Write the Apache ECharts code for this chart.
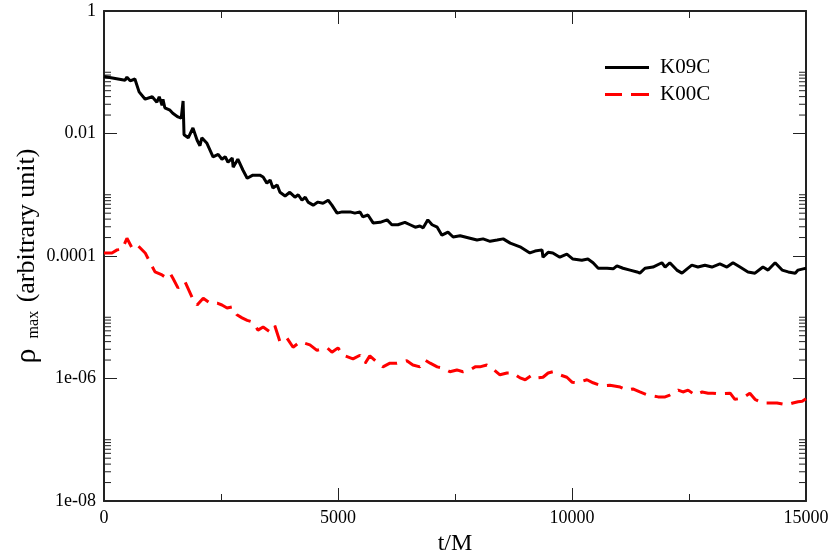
<!DOCTYPE html>
<html>
<head>
<meta charset="utf-8">
<script src="https://cdn.jsdelivr.net/npm/echarts@6/dist/echarts.min.js"></script>
<style>
  html, body { margin: 0; padding: 0; background: #fff; }
  #main { width: 834px; height: 557px; }
</style>
</head>
<body>
<div id="main"></div>
<script>
// series names
var seriesNames = ['K09C', 'K00C'];

// time (t/M) and log10 of rho_max
var k09cT = [0, 20, 450, 490, 560, 660, 750, 880, 1030, 1130, 1180, 1240, 1260, 1300, 1410, 1470, 1580, 1650, 1690, 1710,
  1800, 1900, 1990, 2050, 2090, 2200, 2330, 2440, 2520, 2590, 2650, 2740, 2760, 2860, 2970, 3060, 3180, 3330, 3400, 3480,
  3550, 3610, 3700, 3760, 3870, 3970, 4080, 4150, 4230, 4300, 4360, 4470, 4570, 4680, 4790, 4870, 4980, 5090, 5260, 5360,
  5470, 5530, 5640, 5750, 5900, 6050, 6150, 6280, 6430, 6540, 6650, 6750, 6820, 6920, 7010, 7120, 7220, 7350, 7460, 7610,
  7820, 7970, 8100, 8250, 8400, 8530, 8680, 8890, 9100, 9210, 9250, 9360, 9380, 9490, 9590, 9740, 9890, 10020, 10210, 10340,
  10450, 10560, 10750, 10880, 10960, 11090, 11240, 11390, 11450, 11560, 11730, 11920, 11990, 12090, 12240, 12350, 12460, 12560,
  12690, 12840, 12990, 13160, 13310, 13440, 13590, 13760, 13910, 14080, 14190, 14340, 14490, 14620, 14770, 14830, 14940, 15000];
var k09cLog = [-1.07, -1.10, -1.13, -1.08, -1.14, -1.11, -1.32, -1.44, -1.40, -1.49, -1.40, -1.54, -1.44, -1.58, -1.62, -1.67, -1.73, -1.75, -1.47, -2.02,
  -2.07, -1.91, -2.11, -2.20, -2.07, -2.16, -2.38, -2.34, -2.42, -2.38, -2.47, -2.40, -2.55, -2.42, -2.60, -2.73, -2.68, -2.68, -2.71, -2.81,
  -2.76, -2.89, -2.84, -2.96, -3.02, -2.96, -3.04, -3.00, -3.09, -3.04, -3.12, -3.17, -3.12, -3.14, -3.09, -3.17, -3.30, -3.28, -3.28, -3.30,
  -3.28, -3.36, -3.33, -3.46, -3.45, -3.41, -3.49, -3.49, -3.45, -3.49, -3.53, -3.51, -3.54, -3.41, -3.49, -3.53, -3.66, -3.61, -3.69, -3.67,
  -3.71, -3.74, -3.72, -3.76, -3.74, -3.72, -3.79, -3.85, -3.95, -3.92, -3.95, -3.90, -4.02, -3.94, -3.95, -4.02, -3.97, -4.05, -4.07, -4.05,
  -4.11, -4.20, -4.20, -4.21, -4.16, -4.20, -4.23, -4.26, -4.28, -4.20, -4.18, -4.11, -4.18, -4.11, -4.23, -4.28, -4.21, -4.15,
  -4.18, -4.15, -4.18, -4.13, -4.18, -4.11, -4.18, -4.26, -4.28, -4.18, -4.23, -4.11, -4.23, -4.26, -4.28, -4.23, -4.21, -4.20];

var k00cT = [0, 170, 280, 390, 490, 600, 710, 880, 980, 1090, 1240, 1300, 1410, 1470, 1580, 1730, 1880, 1990, 2120, 2270,
  2420, 2520, 2630, 2740, 2840, 2950, 3060, 3180, 3290, 3400, 3550, 3650, 3760, 3910, 4040, 4190, 4400, 4550, 4770, 4870,
  5000, 5110, 5320, 5470, 5580, 5680, 5830, 5960, 6110, 6260, 6370, 6470, 6600, 6750, 6860, 6970, 7120, 7240, 7390, 7540,
  7670, 7820, 7930, 8030, 8180, 8290, 8460, 8610, 8740, 8890, 9000, 9150, 9270, 9380, 9490, 9590, 9740, 9890, 10000, 10130,
  10320, 10450, 10640, 10810, 11030, 11180, 11300, 11450, 11620, 11840, 11990, 12090, 12270, 12370, 12480, 12630, 12780, 12910,
  13010, 13120, 13380, 13480, 13650, 13800, 13910, 14080, 14270, 14380, 14590, 14720, 14830, 14920, 15000];
var k00cLog = [-3.95, -3.95, -3.90, -3.89, -3.71, -3.87, -3.82, -3.95, -4.10, -4.26, -4.31, -4.34, -4.28, -4.36, -4.52, -4.42, -4.67, -4.80, -4.69, -4.77,
  -4.77, -4.80, -4.85, -4.83, -4.96, -5.01, -5.05, -5.08, -5.21, -5.16, -5.24, -5.14, -5.40, -5.34, -5.49, -5.40, -5.45, -5.54, -5.50, -5.57,
  -5.50, -5.62, -5.68, -5.62, -5.75, -5.63, -5.73, -5.81, -5.75, -5.75, -5.73, -5.71, -5.78, -5.81, -5.70, -5.75, -5.81, -5.83, -5.89, -5.86,
  -5.89, -5.86, -5.81, -5.81, -5.78, -5.83, -5.94, -5.91, -5.91, -5.99, -6.02, -5.94, -5.99, -5.98, -5.91, -5.89, -5.94, -5.98, -6.06, -6.07,
  -6.02, -6.07, -6.12, -6.11, -6.14, -6.19, -6.17, -6.22, -6.27, -6.30, -6.30, -6.27, -6.19, -6.22, -6.19, -6.27, -6.22, -6.24,
  -6.24, -6.25, -6.24, -6.34, -6.32, -6.24, -6.34, -6.40, -6.40, -6.40, -6.43, -6.40, -6.38, -6.37, -6.33];

// y tick labels by decade exponent
var yTickLabels = { '0': '1', '-2': '0.01', '-4': '0.0001', '-6': '1e-06', '-8': '1e-08' };
// decades from which the minor ticks (2..10 x base) start
var yMinorBases = [1e-8, 1e-6, 1e-4, 1e-2];

function toPairs(ts, logs) {
  var out = [];
  for (var i = 0; i < ts.length; i++) {
    out.push([ts[i], Math.pow(10, logs[i])]);
  }
  return out;
}

var dom = document.getElementById('main');
var myChart = echarts.init(dom, null, { renderer: 'canvas' });
var serif = 'Liberation Serif';
var axisColor = '#222';

function xAx(pos, showLabel) {
  return {
    type: 'value',
    position: pos,
    min: 0,
    max: 15000,
    interval: 5000,
    axisLine: { show: true, onZero: false, lineStyle: { color: axisColor, width: 2 } },
    axisTick: { show: true, inside: true, length: 13, lineStyle: { color: axisColor, width: 1 } },
    minorTick: { show: true, splitNumber: 2, length: 7, lineStyle: { color: axisColor, width: 1 } },
    splitLine: { show: false },
    axisLabel: {
      show: showLabel, color: '#000', fontFamily: serif, fontSize: 18, margin: 8,
      formatter: function (v) { return String(v); }
    },
    name: showLabel ? 't/M' : '',
    nameLocation: 'middle',
    nameGap: 30,
    nameTextStyle: { color: '#000', fontFamily: serif, fontSize: 24 }
  };
}

function yAx(pos, showLabel) {
  return {
    type: 'log',
    logBase: 10,
    position: pos,
    min: 1e-8,
    max: 1,
    interval: 2,
    axisLine: { show: true, onZero: false, lineStyle: { color: axisColor, width: 2 } },
    axisTick: { show: true, inside: true, length: 13, lineStyle: { color: axisColor, width: 1 } },
    splitLine: { show: false },
    axisLabel: {
      show: showLabel,
      color: '#000',
      fontFamily: serif,
      fontSize: 18,
      margin: 8,
      formatter: function (v) {
        var e = Math.round(Math.log(v) / Math.LN10);
        return yTickLabels[String(e)] !== undefined ? yTickLabels[String(e)] : '';
      }
    },
    name: showLabel ? '{rho|ρ}{sub|max}{t| (arbitrary unit)}' : '',
    nameLocation: 'middle',
    nameRotate: 90,
    nameGap: 62,
    nameMoveOverlap: false,
    nameTextStyle: {
      color: '#000',
      fontFamily: serif,
      rich: {
        rho: { fontFamily: serif, fontSize: 30, color: '#000' },
        sub: { fontFamily: serif, fontSize: 16, color: '#000', verticalAlign: 'bottom', padding: [0, 2, 0, 10] },
        t: { fontFamily: serif, fontSize: 26, color: '#000' }
      }
    }
  };
}

var option = {
  backgroundColor: '#fff',
  animation: false,
  grid: { left: 104, right: 28, top: 11, bottom: 56, containLabel: false, outerBoundsMode: 'none' },
  legend: {
    data: [
      { name: seriesNames[0], icon: 'rect' },
      { name: seriesNames[1], icon: 'path://M0,0h17v3h-17zM26,0h18v3h-18z' }
    ],
    orient: 'vertical',
    left: 600,
    top: 52,
    itemWidth: 44,
    itemHeight: 3,
    itemGap: 6,
    textStyle: { color: '#000', fontFamily: serif, fontSize: 21, padding: [0, 0, 0, 6] }
  },
  xAxis: [xAx('bottom', true), xAx('top', false)],
  yAxis: [yAx('left', true), yAx('right', false)],
  series: [
    {
      name: seriesNames[0],
      type: 'line',
      symbol: 'none',
      xAxisIndex: 0,
      yAxisIndex: 0,
      lineStyle: { color: '#000', width: 3 },
      itemStyle: { color: '#000' },
      data: toPairs(k09cT, k09cLog)
    },
    {
      name: seriesNames[1],
      type: 'line',
      symbol: 'none',
      xAxisIndex: 0,
      yAxisIndex: 0,
      lineStyle: { color: '#ff0000', width: 3, type: [16, 9] },
      itemStyle: { color: '#ff0000' },
      data: toPairs(k00cT, k00cLog)
    }
  ]
};

myChart.setOption(option, true);

// minor ticks of the log axes (2..10 times each labelled decade)
var x0 = myChart.convertToPixel({ xAxisIndex: 0 }, 0);
var x1 = myChart.convertToPixel({ xAxisIndex: 0 }, 15000);
var ticks = [];
yMinorBases.forEach(function (b) {
  for (var k = 2; k <= 10; k++) {
    var py = myChart.convertToPixel({ yAxisIndex: 0 }, b * k);
    ticks.push({ type: 'line', silent: true, shape: { x1: x0, y1: py, x2: x0 + 7, y2: py }, style: { stroke: axisColor, lineWidth: 1 } });
    ticks.push({ type: 'line', silent: true, shape: { x1: x1, y1: py, x2: x1 - 7, y2: py }, style: { stroke: axisColor, lineWidth: 1 } });
  }
});
myChart.setOption({ graphic: ticks });
</script>
</body>
</html>
